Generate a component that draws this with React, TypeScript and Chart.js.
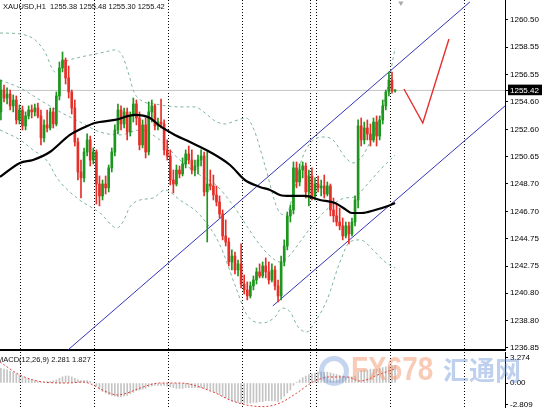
import React, { useEffect, useRef } from 'react';
import { Chart, registerables } from 'chart.js';

Chart.register(...registerables);

const FONT = '"Liberation Sans", Arial, sans-serif';

const symbolLabel = 'XAUUSD,H1';
const lastBarOHLC = [1255.38, 1255.48, 1255.30, 1255.42];
const lastPrice = 1255.42;
const macdLabel = 'MACD(12,26,9)';
const macdLast = 2.281;
const signalLast = 1.827;

const opens = [
  1253.87, 1255.45, 1254.87, 1255.16, 1254.30, 1254.73, 1253.29, 1254.01, 1252.86, 1253.58,
  1254.01, 1253.87, 1254.15, 1253.58, 1251.99, 1252.93, 1252.71, 1253.87, 1253.00, 1255.02,
  1257.04, 1257.61, 1256.32, 1255.31, 1254.15, 1251.70, 1249.54, 1249.11, 1250.98, 1251.85,
  1250.40, 1250.98, 1248.67, 1247.81, 1248.67, 1248.39, 1249.83, 1250.98, 1252.57, 1254.01,
  1253.00, 1253.87, 1252.42, 1253.58, 1254.44, 1253.43, 1251.49, 1252.93, 1250.98, 1253.87,
  1254.30, 1252.86, 1253.14, 1253.00, 1251.13, 1250.69, 1248.96, 1248.67, 1249.68, 1249.40,
  1250.12, 1250.84, 1250.40, 1249.68, 1249.97, 1250.40, 1250.69, 1248.10, 1248.67, 1248.53,
  1247.88, 1247.38, 1246.51, 1244.92, 1244.49, 1243.05, 1243.48, 1242.47, 1242.91, 1241.46,
  1241.03, 1240.60, 1241.32, 1241.75, 1242.33, 1242.04, 1242.76, 1242.33, 1241.75, 1242.47,
  1241.32, 1240.60, 1243.05, 1244.20, 1246.37, 1246.80, 1249.83, 1248.82, 1249.68, 1249.97,
  1248.10, 1249.25, 1247.81, 1248.67, 1248.39, 1248.53, 1247.95, 1248.53, 1246.80, 1246.37,
  1245.93, 1245.65, 1244.92, 1245.65, 1245.07, 1245.93, 1247.52, 1252.86, 1251.85, 1252.71,
  1252.28, 1251.85, 1253.14, 1252.13, 1253.29, 1254.30, 1255.31, 1256.17, 1255.38
];
const highs = [
  1256.17, 1255.81, 1255.60, 1255.45, 1255.09, 1255.02, 1254.37, 1254.30, 1253.87, 1254.30,
  1254.37, 1254.44, 1254.51, 1254.01, 1253.29, 1254.01, 1254.15, 1254.15, 1255.31, 1257.47,
  1258.19, 1257.76, 1257.18, 1255.45, 1254.73, 1251.99, 1250.40, 1251.27, 1252.28, 1252.13,
  1251.27, 1251.13, 1249.25, 1248.96, 1249.25, 1250.04, 1251.27, 1252.93, 1254.44, 1254.30,
  1254.15, 1254.15, 1253.87, 1254.87, 1254.73, 1253.87, 1253.29, 1253.43, 1254.59, 1254.73,
  1254.44, 1253.43, 1254.80, 1253.29, 1251.85, 1251.13, 1249.68, 1250.04, 1249.97, 1250.55,
  1251.13, 1251.41, 1251.13, 1250.40, 1250.76, 1251.13, 1250.98, 1250.98, 1249.68, 1249.32,
  1248.53, 1247.81, 1246.80, 1246.08, 1244.78, 1243.92, 1243.77, 1243.19, 1244.35, 1242.11,
  1241.61, 1241.61, 1242.04, 1242.62, 1242.91, 1243.05, 1243.34, 1243.05, 1242.91, 1242.76,
  1241.75, 1243.48, 1244.64, 1246.65, 1247.16, 1250.26, 1250.26, 1250.12, 1250.26, 1250.19,
  1249.68, 1249.83, 1249.11, 1249.25, 1248.96, 1249.32, 1248.82, 1248.67, 1247.66, 1247.23,
  1246.94, 1246.22, 1245.93, 1245.93, 1246.22, 1247.81, 1253.29, 1253.43, 1253.14, 1253.29,
  1253.00, 1253.43, 1253.58, 1253.58, 1254.73, 1255.45, 1256.75, 1256.75, 1255.48
];
const lows = [
  1253.29, 1254.59, 1254.44, 1254.01, 1253.87, 1253.00, 1253.00, 1252.57, 1252.57, 1253.36,
  1253.43, 1253.58, 1253.43, 1251.49, 1251.70, 1252.42, 1252.57, 1252.71, 1252.86, 1254.73,
  1256.75, 1255.88, 1254.87, 1253.72, 1251.41, 1248.96, 1247.66, 1248.82, 1250.69, 1249.97,
  1250.12, 1247.23, 1247.09, 1247.52, 1247.95, 1248.10, 1249.54, 1250.69, 1252.28, 1252.57,
  1252.71, 1251.85, 1252.13, 1253.14, 1252.93, 1251.13, 1251.27, 1250.55, 1250.76, 1253.14,
  1252.57, 1252.57, 1252.71, 1250.76, 1250.40, 1248.60, 1248.02, 1248.53, 1249.11, 1249.25,
  1249.83, 1250.12, 1249.40, 1249.25, 1249.40, 1249.97, 1247.81, 1244.49, 1248.24, 1247.52,
  1247.09, 1246.22, 1244.64, 1244.20, 1242.76, 1242.47, 1242.18, 1242.04, 1241.18, 1240.74,
  1240.31, 1240.45, 1241.03, 1241.46, 1241.90, 1241.90, 1241.90, 1241.46, 1241.61, 1241.03,
  1240.17, 1240.31, 1242.76, 1243.92, 1245.93, 1246.51, 1248.39, 1248.53, 1249.11, 1247.66,
  1247.09, 1247.52, 1247.52, 1248.10, 1247.81, 1247.66, 1247.81, 1246.37, 1245.93, 1245.65,
  1245.36, 1244.64, 1244.78, 1244.35, 1244.92, 1245.65, 1246.94, 1251.41, 1251.56, 1251.85,
  1251.41, 1251.70, 1251.41, 1251.85, 1253.00, 1254.01, 1255.02, 1255.23, 1255.30
];
const closes = [
  1255.45, 1254.87, 1255.16, 1254.30, 1254.73, 1253.29, 1254.01, 1252.86, 1253.58, 1254.01,
  1253.87, 1254.15, 1253.58, 1251.99, 1252.93, 1252.71, 1253.87, 1253.00, 1255.02, 1257.04,
  1257.61, 1256.32, 1255.31, 1254.15, 1251.70, 1249.54, 1249.11, 1250.98, 1251.85, 1250.40,
  1250.98, 1248.67, 1247.81, 1248.67, 1248.39, 1249.83, 1250.98, 1252.57, 1254.01, 1253.00,
  1253.87, 1252.42, 1253.58, 1254.44, 1253.43, 1251.49, 1252.93, 1250.98, 1253.87, 1254.30,
  1252.86, 1253.14, 1253.00, 1251.13, 1250.69, 1248.96, 1248.67, 1249.68, 1249.40, 1250.12,
  1250.84, 1250.40, 1249.68, 1249.97, 1250.40, 1250.69, 1248.10, 1248.67, 1248.53, 1247.88,
  1247.38, 1246.51, 1244.92, 1244.49, 1243.05, 1243.48, 1242.47, 1242.91, 1241.46, 1241.03,
  1240.60, 1241.32, 1241.75, 1242.33, 1242.04, 1242.76, 1242.33, 1241.75, 1242.47, 1241.32,
  1240.60, 1243.05, 1244.20, 1246.37, 1246.80, 1249.83, 1248.82, 1249.68, 1249.97, 1248.10,
  1249.25, 1247.81, 1248.67, 1248.39, 1248.53, 1247.95, 1248.53, 1246.80, 1246.37, 1245.93,
  1245.65, 1244.92, 1245.65, 1245.07, 1245.93, 1247.52, 1252.86, 1251.85, 1252.71, 1252.28,
  1251.85, 1253.14, 1252.13, 1253.29, 1254.30, 1255.31, 1256.17, 1255.38, 1255.42
];

// moving average (black), [bar index, price]
const maLine = [
  [-0.3, 1249.18], [6.2, 1250.19], [10.4, 1250.40], [15.9, 1250.98], [22.4, 1252.21],
  [27.3, 1252.78], [30.5, 1253.07], [37.0, 1253.29], [43.5, 1253.65], [48.4, 1253.43],
  [51.6, 1252.86], [56.5, 1252.21], [61.4, 1251.70], [67.9, 1250.98], [74.4, 1250.04],
  [79.2, 1248.96], [84.1, 1248.46], [87.4, 1248.24], [90.6, 1247.88], [93.9, 1247.81],
  [98.7, 1247.81], [103.6, 1247.52], [108.5, 1247.30], [111.7, 1246.87], [114.0, 1246.58],
  [117.2, 1246.58], [121.5, 1246.80], [125.7, 1247.09], [128.0, 1247.30]
];
// Bollinger bands, [bar index, price]
const bbUpper = [
  [-0.3, 1259.56], [6.2, 1259.49], [11.1, 1259.06], [14.3, 1258.19], [17.6, 1256.75],
  [20.8, 1257.47], [24.7, 1257.76], [28.9, 1257.97], [33.8, 1258.19], [37.0, 1258.34],
  [39.3, 1257.97], [41.3, 1256.75], [43.2, 1255.31], [45.8, 1254.66], [50.0, 1254.44],
  [58.1, 1254.23], [63.0, 1254.23], [66.3, 1253.79], [69.5, 1253.22], [72.8, 1253.00],
  [76.0, 1253.22], [79.6, 1253.43], [82.2, 1252.57], [85.7, 1250.04], [90.0, 1246.80],
  [92.6, 1246.44], [94.8, 1247.88], [97.1, 1250.04], [100.0, 1251.49], [104.6, 1252.06],
  [107.8, 1251.85], [112.0, 1250.55], [114.3, 1250.19], [117.6, 1250.76], [121.5, 1252.57],
  [124.7, 1254.73], [128.0, 1258.48]
];
const bbMiddle = [
  [-0.3, 1256.17], [6.2, 1255.60], [12.7, 1254.73], [19.2, 1253.87], [25.7, 1253.14],
  [32.2, 1252.42], [38.7, 1252.21], [45.2, 1252.57], [51.6, 1251.85], [58.1, 1250.40],
  [64.6, 1249.32], [69.8, 1248.60], [75.3, 1247.16], [79.6, 1245.72], [84.1, 1244.28],
  [87.4, 1243.48], [90.6, 1243.05], [93.9, 1243.56], [97.1, 1244.49], [102.0, 1245.93],
  [106.8, 1247.02], [111.7, 1247.66], [115.0, 1247.74], [118.5, 1248.53], [123.1, 1249.68],
  [128.0, 1250.76]
];
const bbLower = [
  [-0.3, 1252.57], [6.2, 1251.85], [10.4, 1251.13], [15.3, 1250.26], [18.2, 1249.11],
  [24.7, 1247.66], [32.2, 1246.58], [37.7, 1245.50], [39.6, 1245.93], [41.9, 1247.02],
  [45.2, 1247.52], [49.4, 1247.66], [53.3, 1248.24], [58.1, 1247.52], [64.6, 1246.44],
  [71.1, 1244.28], [76.0, 1241.39], [79.9, 1239.23], [85.1, 1238.65], [89.0, 1239.08],
  [91.3, 1239.73], [93.9, 1239.45], [96.5, 1238.36], [99.4, 1238.00], [102.0, 1238.72],
  [105.9, 1240.31], [110.1, 1243.05], [113.3, 1244.49], [116.6, 1244.64], [121.5, 1243.77],
  [124.7, 1243.05], [128.0, 1242.62]
];
const channelUpper = [[21.8, 1236.71], [152.3, 1261.80]];
const channelLower = [[88.3, 1239.88], [163.7, 1254.30]];
const drawnV = [[130.9, 1255.52], [137.0, 1253.07], [145.5, 1259.13]];
const shiftMarker = [[129.9, 1261.72]];

const priceTicks = [1260.50, 1258.55, 1256.55, 1254.60, 1252.60, 1250.65, 1248.70, 1246.70, 1244.75, 1242.75, 1240.80, 1238.80, 1236.85];
const daySeparators = [6.5, 30.5, 54.5, 78.5, 100.5, 102.5, 126.5, 150.5];

const macdMain = [
  1.9, 1.8, 1.7, 1.5, 1.4, 1.2, 1.0,
  0.8, 0.6, 0.5, 0.4, 0.3, 0.2, 0.1,
  0.1, 0.2, 0.2, 0.3, 0.4, 0.6, 0.8,
  0.9, 0.9, 0.8, 0.6, 0.4, 0.3, 0.3,
  0.3, 0.2, 0.0, -0.4, -0.8, -1.1, -1.3,
  -1.5, -1.6, -1.7, -1.8, -1.8, -1.7, -1.6,
  -1.4, -1.2, -1.0, -0.9, -0.8, -0.7, -0.5,
  -0.4, -0.3, -0.3, -0.3, -0.3, -0.4, -0.5,
  -0.6, -0.7, -0.7, -0.7, -0.6, -0.6, -0.6,
  -0.6, -0.6, -0.6, -0.7, -0.8, -0.9, -1.1,
  -1.3, -1.5, -1.7, -1.9, -2.1, -2.3, -2.4,
  -2.5, -2.6, -2.6, -2.6, -2.6, -2.5, -2.5,
  -2.4, -2.4, -2.3, -2.3, -2.3, -2.3, -2.4,
  -2.1, -1.7, -1.3, -0.9, -0.3, 0.1, 0.4,
  0.7, 0.9, 1.1, 1.2, 1.3, 1.4, 1.4,
  1.4, 1.4, 1.3, 1.2, 1.1, 1.0, 0.9,
  0.8, 0.8, 0.8, 0.9, 1.4, 1.6, 1.7,
  1.7, 1.8, 1.8, 1.8, 1.9, 2.0, 2.1,
  2.2, 2.3, 2.281
];
const macdSignal = [
  [-0.3, 2.72], [6.2, 1.03], [13.7, 0.13], [21.5, 0.0], [26.6, 0.13], [34.4, -1.16],
  [37.7, -1.55], [41.0, -1.29], [45.2, -0.65], [51.6, 0.0], [58.1, 0.0], [68.9, -1.16],
  [74.4, -2.20], [79.9, -2.85], [85.1, -3.05], [90.6, -2.59], [96.1, -1.29], [101.3, 0.13],
  [106.8, 0.78], [112.4, 0.78], [116.6, 0.26], [123.1, 1.16], [128.0, 1.83]
];
const macdTicks = [3.274, 0, -2.809];

const X_MIN = -0.3;
const X_MAX = 163.7;
const PRICE_MIN = 1236.70;
const PRICE_MAX = 1261.94;
const MACD_MIN = -3.23;
const MACD_MAX = 4.01;

const UP = '#1d961d';
const DOWN = '#e5302a';
const BB_COLOR = '#7fb59c';
const CHANNEL = '#3434b8';

const pts = (arr: number[][]) => arr.map(([x, y]) => ({ x, y }));

const zeroPad = (s: any) => {
  s.paddingTop = 0;
  s.paddingBottom = 0;
  s.paddingLeft = 0;
  s.paddingRight = 0;
};

export default function App() {
  const mainRef = useRef<HTMLCanvasElement>(null);
  const macdRef = useRef<HTMLCanvasElement>(null);

  useEffect(() => {
    document.body.style.margin = '0';
    const colors = closes.map((c, i) => (c >= opens[i] ? UP : DOWN));
    const lineBase = { pointRadius: 0, pointHoverRadius: 0, fill: false, borderWidth: 1 };

    const xScale = (borderShow: boolean) => ({
      type: 'linear' as const,
      min: X_MIN,
      max: X_MAX,
      bounds: 'data' as const,
      offset: false,
      grid: { offset: false, color: '#000', lineWidth: 1, drawTicks: false, drawOnChartArea: true },
      border: { display: borderShow, color: '#000', width: 2, dash: [1, 2] },
      ticks: { display: false },
      afterBuildTicks: (s: any) => { s.ticks = daySeparators.map((v) => ({ value: v })); },
      afterFit: (s: any) => { s.height = borderShow ? 2 : 0; zeroPad(s); },
    });

    const yScale = (min: number, max: number, ticks: number[], fmt: (v: number) => string, highlight: number | null) => ({
      type: 'linear' as const, position: 'right' as const, min, max, bounds: 'data' as const, beginAtZero: false,
      grid: { drawOnChartArea: false, drawTicks: true, tickLength: 3, tickColor: '#000' },
      border: { display: true, color: '#000', width: 1 },
      ticks: {
        autoSkip: false, padding: 2,
        font: { family: FONT, size: 8 },
        color: (ctx: any) => (highlight !== null && ctx.tick && ctx.tick.value === highlight ? '#fff' : '#000'),
        showLabelBackdrop: (ctx: any) => !!(highlight !== null && ctx.tick && ctx.tick.value === highlight),
        backdropColor: '#000',
        backdropPadding: { left: 2, right: 4, top: 1, bottom: 0 },
        callback: (v: any) => fmt(Number(v)),
      },
      afterBuildTicks: (s: any) => { s.ticks = ticks.map((v) => ({ value: v })); },
      afterFit: (s: any) => { s.width = 37; zeroPad(s); },
    });

    const common = {
      responsive: false,
      animation: false as const,
      devicePixelRatio: 1,
      layout: { padding: 0, autoPadding: false },
      events: [] as any[],
      plugins: { legend: { display: false }, tooltip: { enabled: false } },
    };

    const main = new Chart(mainRef.current as HTMLCanvasElement, {
      type: 'bar',
      data: {
        datasets: [
          { type: 'line', data: pts([[X_MIN, lastPrice], [X_MAX, lastPrice]]), borderColor: '#c4c4c4', ...lineBase, order: 20 } as any,
          { type: 'line', data: pts(bbUpper), borderColor: BB_COLOR, borderDash: [3, 3], cubicInterpolationMode: 'monotone', ...lineBase, order: 15 } as any,
          { type: 'line', data: pts(bbMiddle), borderColor: BB_COLOR, borderDash: [3, 3], cubicInterpolationMode: 'monotone', ...lineBase, order: 15 } as any,
          { type: 'line', data: pts(bbLower), borderColor: BB_COLOR, borderDash: [3, 3], cubicInterpolationMode: 'monotone', ...lineBase, order: 15 } as any,
          { type: 'line', data: pts(channelUpper), borderColor: CHANNEL, ...lineBase, order: 12 } as any,
          { type: 'line', data: pts(channelLower), borderColor: CHANNEL, ...lineBase, order: 12 } as any,
          {
            type: 'bar', data: lows.map((l, i) => ({ x: i, y: [l, highs[i]] })),
            backgroundColor: colors, borderWidth: 0, barThickness: 1, grouped: false, order: 10,
          } as any,
          {
            type: 'bar', data: opens.map((o, i) => ({ x: i, y: [o, closes[i]] })),
            backgroundColor: colors, borderWidth: 0, barThickness: 2, grouped: false, minBarLength: 1, order: 9,
          } as any,
          { type: 'line', data: pts(maLine), borderColor: '#000', cubicInterpolationMode: 'monotone', pointRadius: 0, pointHoverRadius: 0, fill: false, borderWidth: 2.2, order: 5 } as any,
          { type: 'line', data: pts(drawnV), borderColor: '#e4302e', pointRadius: 0, pointHoverRadius: 0, fill: false, borderWidth: 1.4, order: 4 } as any,
          { type: 'scatter', data: pts(shiftMarker), pointStyle: 'triangle', rotation: 180, pointRadius: 3, pointHoverRadius: 3, backgroundColor: '#a8a8a8', borderWidth: 0, order: 3 } as any,
        ],
      },
      options: {
        ...common,
        scales: {
          x: xScale(true) as any,
          y: yScale(PRICE_MIN, PRICE_MAX, [...priceTicks, lastPrice], (v) => v.toFixed(2), lastPrice) as any,
        },
      } as any,
    });

    const macd = new Chart(macdRef.current as HTMLCanvasElement, {
      type: 'bar',
      data: {
        datasets: [
          {
            type: 'bar', data: macdMain.map((v, i) => ({ x: i, y: v })),
            backgroundColor: '#c4c4c4', borderWidth: 0, barThickness: 1, grouped: false, order: 5,
          } as any,
          { type: 'line', data: pts(macdSignal), borderColor: '#e0403a', borderDash: [2, 2], cubicInterpolationMode: 'monotone', pointRadius: 0, pointHoverRadius: 0, fill: false, borderWidth: 1, order: 2 } as any,
        ],
      },
      options: {
        ...common,
        scales: {
          x: xScale(false) as any,
          y: yScale(MACD_MIN, MACD_MAX, macdTicks, (v) => (v === 0 ? '0.00' : String(v)), null) as any,
        },
      } as any,
    });

    return () => {
      main.destroy();
      macd.destroy();
    };
  }, []);

  const header = `${symbolLabel}  ${lastBarOHLC.map((v) => v.toFixed(2)).join(' ')}`;
  const macdText = `${macdLabel} ${macdLast.toFixed(3)} ${signalLast.toFixed(3)}`;

  return (
    <div style={{ position: 'relative', width: 542, height: 408, overflow: 'hidden', background: '#fff' }}>
      <canvas ref={mainRef} width={542} height={352} style={{ position: 'absolute', left: 0, top: 0, display: 'block' }} />
      <canvas ref={macdRef} width={542} height={56} style={{ position: 'absolute', left: 0, top: 352, display: 'block' }} />
      <div style={{ position: 'absolute', left: 3, top: 2, font: `7.5px ${FONT}`, lineHeight: '9px', color: '#111', whiteSpace: 'pre' }}>{header}</div>
      <div style={{ position: 'absolute', left: -3, top: 355, font: `7.5px ${FONT}`, lineHeight: '9px', color: '#111', whiteSpace: 'pre' }}>{macdText}</div>
      <div style={{ position: 'absolute', left: 319, top: 356, width: 20, height: 20, borderRadius: '50%', border: '5px solid rgba(110,150,215,0.4)' }} />
      <div style={{ position: 'absolute', left: 351, top: 349, font: `bold 34px ${FONT}`, color: 'rgba(243,150,110,0.5)', transform: 'scaleX(0.82)', transformOrigin: 'left top', whiteSpace: 'pre' }}>FX678</div>
      <div style={{ position: 'absolute', left: 443, top: 352, font: `bold 26px "Noto Sans CJK SC", sans-serif`, lineHeight: '34px', color: 'rgba(110,150,215,0.45)', whiteSpace: 'pre' }}>汇通网</div>
    </div>
  );
}
